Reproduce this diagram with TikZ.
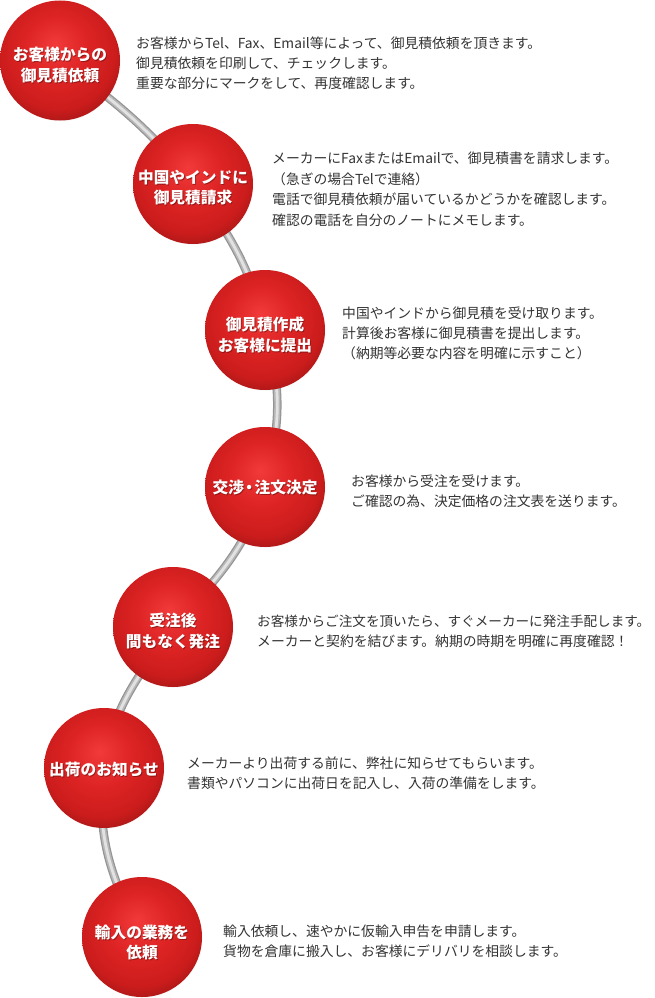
\documentclass[tikz,border=0pt]{standalone}
\usepackage{fontspec}
\newfontfamily\jp{Noto Sans CJK JP}
\usetikzlibrary{backgrounds,shadows}
\definecolor{txt}{HTML}{333333}
\definecolor{rA}{HTML}{F23A3A}
\definecolor{rB}{HTML}{DE2424}
\definecolor{rC}{HTML}{CC1C1C}
\definecolor{rD}{HTML}{A01616}
\definecolor{tubeA}{HTML}{949494}
\definecolor{tubeB}{HTML}{B8B8B8}
\definecolor{tubeC}{HTML}{E2E2E2}
\definecolor{lblshadow}{HTML}{5A0A0A}
\pgfdeclareradialshading{redball}{\pgfqpoint{-2bp}{7bp}}{color(0bp)=(rA); color(13bp)=(rB); color(24bp)=(rC); color(31bp)=(rD); color(50bp)=(rD)}
\begin{document}
\begin{tikzpicture}[x=1pt,y=1pt,
  ball/.style={circle, minimum size=120pt, inner sep=0pt, shade, shading=redball,
    circular drop shadow={shadow xshift=0.8pt, shadow yshift=-1.2pt, opacity=0.3, shadow scale=1.0}},
  lbl/.style={text=white, font=\jp\bfseries\fontsize{15.7}{20.5}\selectfont, align=center, inner sep=0pt},
  lblsh/.style={lbl, text=lblshadow, opacity=0.55, xshift=0.8pt, yshift=-0.9pt},
  desc/.style={anchor=base west, inner sep=0pt, text=txt, font=\jp\fontsize{13.8}{20}\selectfont},
  tube/.style={draw=tubeA, line width=8.5pt, postaction={draw=tubeB, line width=6pt}, postaction={draw=tubeC, line width=2.8pt}}]
\useasboundingbox (0,0) rectangle (654,-998);
% circles
\node[ball] (c1) at (60,-60.5) {};
\node[ball] (c2) at (193,-184) {};
\node[ball] (c3) at (265,-330) {};
\node[ball] (c4) at (265,-487) {};
\node[ball] (c5) at (173,-627) {};
\node[ball] (c6) at (104,-768) {};
\node[ball] (c7) at (142,-937) {};
% connectors
\begin{pgfonlayer}{background}
\draw[tube] (c1.center) to[out=-37,in=128] (c2.center);
\draw[tube] (c2.center) to[out=-54,in=103] (c3.center);
\draw[tube] (c3.center) to[out=-73,in=76] (c4.center);
\draw[tube] (c4.center) to[out=-107,in=48] (c5.center);
\draw[tube] (c5.center) to[out=-125,in=82] (c6.center);
\draw[tube] (c6.center) to[out=-97,in=118] (c7.center);
\end{pgfonlayer}
% circle labels
\node[lblsh, yshift=-4.5pt] (l1s) at (c1) {お客様からの\\御見積依頼};
\node[lbl, yshift=-4.5pt] (l1) at (c1) {お客様からの\\御見積依頼};
\node[lblsh, yshift=-3.5pt] (l2s) at (c2) {中国やインドに\\御見積請求};
\node[lbl, yshift=-3.5pt] (l2) at (c2) {中国やインドに\\御見積請求};
\node[lblsh, yshift=-5pt] (l3s) at (c3) {御見積作成\\お客様に提出};
\node[lbl, yshift=-5pt] (l3) at (c3) {御見積作成\\お客様に提出};
\node[lblsh, yshift=-1pt] (l4s) at (c4) {交渉\kern-2.5pt・\kern-2.5pt注文決定};
\node[lbl, yshift=-1pt] (l4) at (c4) {交渉\kern-2.5pt・\kern-2.5pt注文決定};
\node[lblsh, yshift=-4pt] (l5s) at (c5) {受注後\\間もなく発注};
\node[lbl, yshift=-4pt] (l5) at (c5) {受注後\\間もなく発注};
\node[lblsh, yshift=-2pt] (l6s) at (c6) {出荷のお知らせ};
\node[lbl, yshift=-2pt] (l6) at (c6) {出荷のお知らせ};
\node[lblsh, yshift=-5.5pt] (l7s) at (c7) {輸入の業務を\\依頼};
\node[lbl, yshift=-5.5pt] (l7) at (c7) {輸入の業務を\\依頼};
% descriptions
\node[desc] (t1a) at (136,-48.2) {お客様からTel、Fax、Email等によって、御見積依頼を頂きます。};
\node[desc] (t1b) at (136,-68.2) {御見積依頼を印刷して、チェックします。};
\node[desc] (t1c) at (136,-88.2) {重要な部分にマークをして、再度確認します。};
\node[desc] (t2a) at (272,-163.2) {メーカーにFaxまたはEmailで、御見積書を請求します。};
\node[desc] (t2b) at (272,-184) {（急ぎの場合Telで連絡）};
\node[desc] (t2c) at (272,-204.7) {電話で御見積依頼が届いているかどうかを確認します。};
\node[desc] (t2d) at (272,-225.2) {確認の電話を自分のノートにメモします。};
\node[desc] (t3a) at (342,-318.2) {中国やインドから御見積を受け取ります。};
\node[desc] (t3b) at (342,-338.2) {計算後お客様に御見積書を提出します。};
\node[desc] (t3c) at (342,-358.2) {（納期等必要な内容を明確に示すこと）};
\node[desc] (t4a) at (351,-486.2) {お客様から受注を受けます。};
\node[desc] (t4b) at (351,-506.2) {ご確認の為、決定価格の注文表を送ります。};
\node[desc, font=\jp\fontsize{13.6}{20}\selectfont] (t5a) at (257,-626.2) {お客様からご注文を頂いたら、すぐメーカーに発注手配します。};
\node[desc] (t5b) at (257,-646.2) {メーカーと契約を結びます。納期の時期を明確に再度確認！};
\node[desc] (t6a) at (187,-768.2) {メーカーより出荷する前に、弊社に知らせてもらいます。};
\node[desc] (t6b) at (187,-788.2) {書類やパソコンに出荷日を記入し、入荷の準備をします。};
\node[desc] (t7a) at (223,-936.2) {輸入依頼し、速やかに仮輸入申告を申請します。};
\node[desc] (t7b) at (223,-956.2) {貨物を倉庫に搬入し、お客様にデリバリを相談します。};
\end{tikzpicture}
\end{document}
